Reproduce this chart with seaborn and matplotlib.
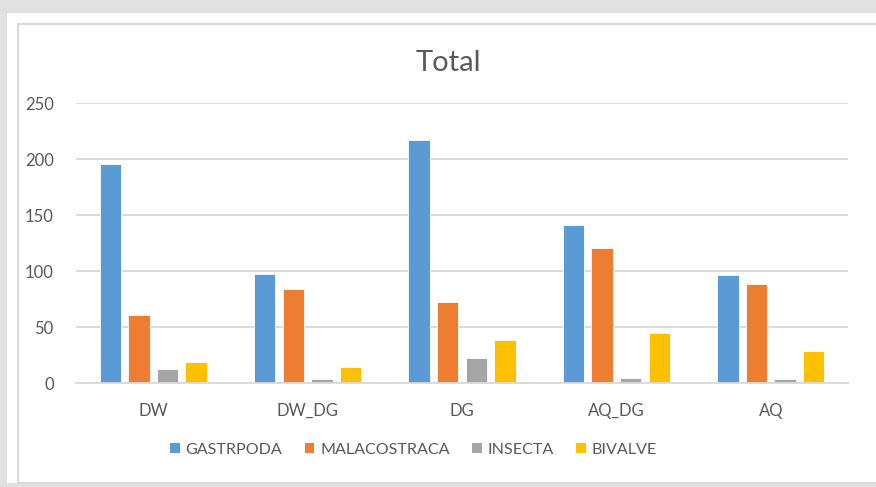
import matplotlib.pyplot as plt
from matplotlib.patches import Rectangle, Patch
import numpy as np
import pandas as pd
import seaborn as sns

# values
sites = ['DW', 'DW_DG', 'DG', 'AQ_DG', 'AQ']
gastrpoda = [196, 98, 217, 141, 97]
malacostraca = [61, 84, 73, 121, 89]
insecta = [13, 4, 23, 5, 4]
bivalve = [19, 15, 39, 45, 29]

groups = ['GASTRPODA', 'MALACOSTRACA', 'INSECTA', 'BIVALVE']
colors = ['#5B9BD5', '#ED7D31', '#A5A5A5', '#FFC000']
yticks = [0, 50, 100, 150, 200, 250]

df = pd.DataFrame({'Site': sites, 'GASTRPODA': gastrpoda, 'MALACOSTRACA': malacostraca,
                   'INSECTA': insecta, 'BIVALVE': bivalve})
df = pd.melt(df, id_vars=['Site'], value_vars=groups, var_name='Class', value_name='Count')

sns.set_theme(style='white')
plt.rcParams['font.family'] = ['Lato', 'DejaVu Sans']
text_col = '#595959'
grid_col = '#D9D9D9'

W, H = 876, 487
fig = plt.figure(figsize=(W / 100, H / 100), dpi=100)
fig.patch.set_facecolor('#E1E1E1')

# white panel and the light chart frame (behind the axes)
fig.patches.append(Rectangle((7 / W, 1 - 483 / H), 1, (483 - 13) / H, transform=fig.transFigure,
                             facecolor='white', edgecolor='none', zorder=-3))
fig.patches.append(Rectangle((18 / W, 1 - 483 / H), 1, (483 - 24) / H, transform=fig.transFigure,
                             facecolor='white', edgecolor=grid_col, linewidth=1.5, zorder=-2))

ax = fig.add_axes([76 / W, 1 - 383.3 / H, (848 - 76) / W, (383.3 - 103.3) / H])
ax.set_facecolor('none')

sns.barplot(data=df, x='Site', y='Count', hue='Class', palette=colors, order=sites,
            hue_order=groups, width=0.74, gap=0.25, ax=ax, legend=False, saturation=1,
            edgecolor='white', linewidth=0.6)

ax.set_ylim(0, 250)
ax.set_yticks(yticks)
ax.set_xlim(-0.5, len(sites) - 0.5)
ax.yaxis.grid(True, color=grid_col, linewidth=1.3)
ax.set_axisbelow(True)
for s in ['top', 'right', 'left']:
    ax.spines[s].set_visible(False)
ax.spines['bottom'].set_color(grid_col)
ax.spines['bottom'].set_linewidth(1.3)
ax.tick_params(axis='both', length=0, labelsize=12, labelcolor=text_col)
ax.tick_params(axis='y', pad=16)
ax.tick_params(axis='x', pad=14)
ax.set_xlabel('')
ax.set_ylabel('')

fig.text(448 / W, 1 - 63 / H, 'Total', ha='center', va='center', fontsize=21, color=text_col)

handles = [Patch(facecolor=c, edgecolor='none') for c in colors]
fig.legend(handles, groups, loc='center', bbox_to_anchor=(0.472, 1 - 450 / H), ncol=4,
           frameon=False, fontsize=11.6, labelcolor=text_col, handlelength=0.6, handleheight=0.6,
           handletextpad=0.35, columnspacing=1.4)

fig.savefig('out.png', dpi=100, facecolor=fig.get_facecolor())
